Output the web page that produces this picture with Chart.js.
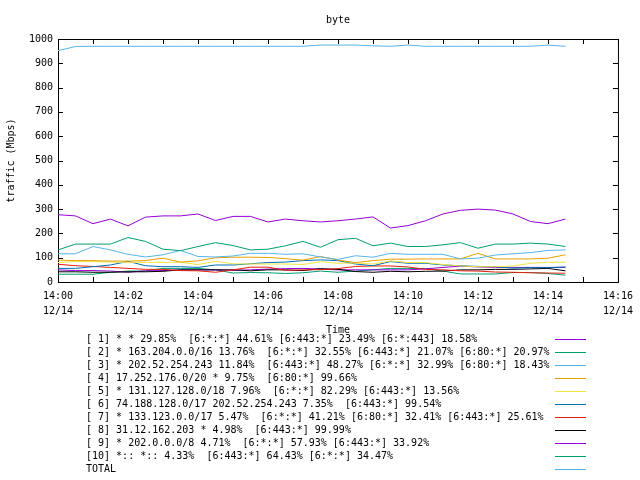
<!DOCTYPE html>
<html>
<head>
<meta charset="utf-8">
<title>byte</title>
<script src="https://cdn.jsdelivr.net/npm/chart.js@4.4.0/dist/chart.umd.min.js"></script>
<style>
  html, body { margin: 0; padding: 0; background: #fff; }
  #wrap { width: 640px; height: 480px; }
</style>
</head>
<body>
<div id="wrap"><canvas id="chart" width="640" height="480"></canvas></div>
<script>
// minutes after 14:00, one sample every 30 s
const times = [0, 0.5, 1, 1.5, 2, 2.5, 3, 3.5, 4, 4.5, 5, 5.5, 6, 6.5, 7,
  7.5, 8, 8.5, 9, 9.5, 10, 10.5, 11, 11.5, 12, 12.5, 13, 13.5, 14, 14.5];

// x tick labels (every 2 min) and the date line under them
const xTickLabels = ['14:00', '14:02', '14:04', '14:06', '14:08', '14:10', '14:12', '14:14', '14:16'];
const dateLabel = '12/14';

// traffic in Mbps
const s1 = [277, 272, 240, 259, 231, 267, 272, 272, 280, 253, 270, 270, 247, 259, 252,
  247, 252, 259, 268, 222, 232, 252, 280, 295, 300, 296, 280, 249, 240, 259];
const s2 = [132, 156, 156, 156, 183, 167, 135, 129, 146, 162, 150, 132, 135, 149, 167,
  143, 174, 180, 149, 160, 146, 146, 153, 162, 139, 156, 156, 160, 156, 146];
const s3 = [116, 116, 146, 132, 114, 103, 112, 130, 105, 103, 107, 118, 118, 114, 116,
  103, 93, 108, 102, 118, 114, 114, 114, 95, 98, 111, 116, 121, 130, 132];
const s4 = [90, 88, 88, 86, 86, 88, 98, 82, 87, 100, 102, 102, 101, 96, 90,
  105, 90, 80, 88, 94, 94, 95, 95, 95, 118, 95, 95, 95, 98, 112];
const s5 = [80, 84, 84, 82, 81, 81, 81, 81, 72, 85, 75, 74, 74, 74, 72,
  84, 77, 78, 74, 87, 80, 80, 72, 66, 63, 63, 66, 77, 81, 81];
const s6 = [56, 56, 63, 70, 85, 67, 63, 63, 60, 70, 70, 75, 80, 82, 88,
  91, 88, 74, 67, 84, 77, 77, 70, 67, 64, 63, 57, 59, 59, 62];
const s7 = [73, 67, 64, 60, 56, 52, 52, 47, 46, 40, 50, 61, 61, 48, 50,
  51, 55, 64, 66, 66, 62, 52, 50, 46, 45, 41, 40, 38, 37, 36];
const s8 = [42, 42, 40, 40, 42, 42, 44, 50, 50, 50, 50, 46, 50, 50, 47,
  55, 52, 43, 40, 44, 42, 44, 45, 50, 50, 52, 52, 54, 56, 46];
const s9 = [50, 47, 47, 45, 40, 46, 47, 50, 50, 50, 48, 50, 53, 55, 56,
  53, 50, 50, 50, 50, 50, 54, 60, 65, 62, 60, 60, 60, 60, 60];
const s10 = [32, 32, 32, 40, 45, 45, 56, 56, 56, 50, 37, 39, 38, 35, 38,
  45, 40, 45, 50, 56, 56, 55, 45, 33, 33, 33, 39, 39, 35, 28];
const total = [952, 969, 970, 970, 970, 970, 970, 970, 970, 970, 970, 970, 970, 970, 970,
  975, 975, 975, 972, 970, 975, 970, 970, 970, 970, 970, 970, 970, 975, 970];

const seriesNames = [
  '[ 1] * * 29.85%  [6:*:*] 44.61% [6:443:*] 23.49% [6:*:443] 18.58%',
  '[ 2] * 163.204.0.0/16 13.76%  [6:*:*] 32.55% [6:443:*] 21.07% [6:80:*] 20.97%',
  '[ 3] * 202.52.254.243 11.84%  [6:443:*] 48.27% [6:*:*] 32.99% [6:80:*] 18.43%',
  '[ 4] 17.252.176.0/20 * 9.75%  [6:80:*] 99.66%',
  '[ 5] * 131.127.128.0/18 7.96%  [6:*:*] 82.29% [6:443:*] 13.56%',
  '[ 6] 74.188.128.0/17 202.52.254.243 7.35%  [6:443:*] 99.54%',
  '[ 7] * 133.123.0.0/17 5.47%  [6:*:*] 41.21% [6:80:*] 32.41% [6:443:*] 25.61%',
  '[ 8] 31.12.162.203 * 4.98%  [6:443:*] 99.99%',
  '[ 9] * 202.0.0.0/8 4.71%  [6:*:*] 57.93% [6:443:*] 33.92%',
  '[10] *:: *:: 4.33%  [6:443:*] 64.43% [6:*:*] 34.47%',
  'TOTAL'
];
const seriesColors = ['#9400d3', '#009e73', '#56b4e9', '#e69f00', '#f0e442',
  '#0072b2', '#e51e10', '#000000', '#9400d3', '#009e73', '#56b4e9'];
const seriesData = [s1, s2, s3, s4, s5, s6, s7, s8, s9, s10, total];

const FONT = '"DejaVu Sans Mono", "Liberation Mono", monospace';

// gnuplot style frame with inward ticks, title and legend on the right
const gnuplotFrame = {
  id: 'gnuplotFrame',
  beforeDatasetsDraw(chart) {
    const { ctx, chartArea: a, scales: { x, y } } = chart;
    ctx.save();
    ctx.strokeStyle = '#000';
    ctx.lineWidth = 1;
    ctx.beginPath();
    x.ticks.forEach(t => {
      const px = Math.round(x.getPixelForValue(t.value)) + 0.5;
      ctx.moveTo(px, a.bottom); ctx.lineTo(px, a.bottom - 5);
      ctx.moveTo(px, a.top); ctx.lineTo(px, a.top + 5);
    });
    y.ticks.forEach(t => {
      const py = Math.round(y.getPixelForValue(t.value)) + 0.5;
      ctx.moveTo(a.left, py); ctx.lineTo(a.left + 5, py);
      ctx.moveTo(a.right, py); ctx.lineTo(a.right - 5, py);
    });
    ctx.stroke();
    ctx.strokeRect(a.left + 0.5, a.top + 0.5, a.right - a.left, a.bottom - a.top);
    ctx.restore();
  },
  afterDraw(chart) {
    const { ctx, chartArea: a } = chart;
    ctx.save();
    ctx.fillStyle = '#000';
    ctx.font = '10px ' + FONT;
    ctx.textBaseline = 'middle';
    ctx.textAlign = 'center';
    ctx.fillText('byte', (a.left + a.right) / 2, 20);

    ctx.textAlign = 'left';
    seriesNames.forEach((name, i) => {
      const rowY = 339 + i * 13;
      ctx.fillStyle = '#000';
      ctx.fillText(name, 86, rowY);
      ctx.strokeStyle = seriesColors[i];
      ctx.lineWidth = 1;
      ctx.beginPath();
      ctx.moveTo(555, rowY + 0.5);
      ctx.lineTo(586, rowY + 0.5);
      ctx.stroke();
    });
    ctx.restore();
  }
};

new Chart(document.getElementById('chart'), {
  type: 'line',
  data: {
    datasets: seriesData.map((vals, i) => ({
      label: seriesNames[i],
      data: vals.map((v, j) => ({ x: times[j], y: v })),
      borderColor: seriesColors[i],
      borderWidth: 1,
      pointRadius: 0,
      tension: 0,
      fill: false
    }))
  },
  options: {
    responsive: false,
    animation: false,
    devicePixelRatio: 1,
    layout: { padding: { top: 39, right: 19, bottom: 144, left: 0 } },
    plugins: {
      legend: { display: false },
      tooltip: { enabled: false }
    },
    scales: {
      x: {
        type: 'linear',
        min: 0,
        max: 16,
        grid: { display: false, drawTicks: false },
        border: { display: false },
        afterFit(scale) { scale.height = 54; },
        ticks: {
          stepSize: 1,
          autoSkip: false,
          maxRotation: 0,
          padding: 7,
          color: '#000',
          font: { family: FONT, size: 10, lineHeight: 1.5 },
          callback: v => (v % 2 === 0 ? [xTickLabels[v / 2], dateLabel] : '')
        },
        title: {
          display: true,
          text: 'Time',
          color: '#000',
          font: { family: FONT, size: 10 },
          padding: { top: 2, bottom: 0 }
        }
      },
      y: {
        min: 0,
        max: 1000,
        grid: { display: false, drawTicks: false },
        border: { display: false },
        afterFit(scale) { scale.width = 58; },
        ticks: {
          stepSize: 100,
          padding: 5,
          color: '#000',
          font: { family: FONT, size: 10 },
          callback: v => String(v)
        },
        title: {
          display: true,
          text: 'traffic (Mbps)',
          color: '#000',
          font: { family: FONT, size: 10 },
          padding: { top: 5, bottom: 0 }
        }
      }
    }
  },
  plugins: [gnuplotFrame]
});
</script>
</body>
</html>
